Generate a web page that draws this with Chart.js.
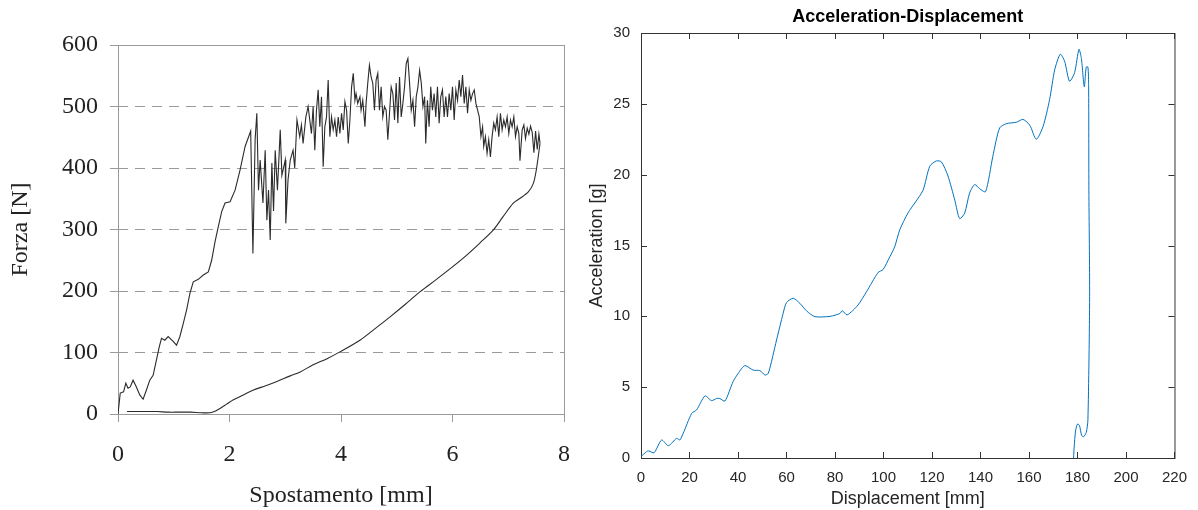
<!DOCTYPE html>
<html>
<head>
<meta charset="utf-8">
<script src="https://cdn.jsdelivr.net/npm/chart.js@4.4.0/dist/chart.umd.min.js"></script>
<style>
  body { margin: 0; background: #fff; }
  #forzaChart { position: absolute; left: 0; top: 0; }
  #accChart { position: absolute; left: 585px; top: 0; }
</style>
</head>
<body>
<canvas id="forzaChart" width="590" height="510"></canvas>
<canvas id="accChart" width="613" height="510"></canvas>
<script>
// Forza-spostamento: ramo di carico (con le oscillazioni) e ramo di scarico
const spostamentoCarico = [
  0, 0.04, 0.1, 0.14, 0.18, 0.22, 0.27, 0.33, 0.39, 0.45, 0.51, 0.57, 0.63, 0.69, 0.74, 0.78, 0.84, 0.9, 0.99, 1.05,
  1.11, 1.17, 1.23, 1.29, 1.35, 1.44, 1.53, 1.62, 1.68, 1.74, 1.8, 1.86, 1.92, 2.01, 2.1, 2.19, 2.28, 2.38,
  2.42, 2.46, 2.49, 2.52, 2.55, 2.6, 2.64, 2.67, 2.7, 2.73, 2.76, 2.79, 2.82, 2.86, 2.91, 2.94, 3.0, 3.01, 3.05, 3.09,
  3.14, 3.17, 3.21, 3.26, 3.29, 3.32, 3.37, 3.41,
  3.47, 3.5, 3.53, 3.56, 3.59, 3.62, 3.65, 3.68, 3.71, 3.74, 3.77, 3.8, 3.83, 3.86, 3.89, 3.92, 3.95, 3.98, 4.01, 4.04,
  4.07, 4.1, 4.13, 4.16, 4.19, 4.22, 4.25, 4.27, 4.3, 4.34, 4.36, 4.39, 4.43, 4.45, 4.48, 4.51, 4.54, 4.57, 4.6, 4.63,
  4.66, 4.69, 4.72, 4.75, 4.78, 4.81, 4.84, 4.87, 4.9, 4.93, 4.96, 4.99, 5.02, 5.05, 5.08, 5.11, 5.14, 5.17, 5.2, 5.23,
  5.26, 5.29, 5.32, 5.35, 5.38, 5.41, 5.44, 5.47, 5.5, 5.52, 5.55, 5.58, 5.61, 5.64, 5.67, 5.7, 5.73, 5.76, 5.79, 5.82, 5.85,
  5.88, 5.91, 5.94, 5.97, 6.0, 6.03, 6.06, 6.09, 6.12, 6.15, 6.18, 6.21, 6.24, 6.27, 6.3, 6.33, 6.36, 6.39, 6.42, 6.45,
  6.48, 6.51, 6.54, 6.56, 6.59, 6.62, 6.65, 6.68, 6.71, 6.74, 6.77, 6.8, 6.83, 6.86, 6.89, 6.92, 6.95, 6.98, 7.01, 7.04,
  7.07, 7.1, 7.13, 7.16, 7.19, 7.21, 7.25, 7.28, 7.31, 7.34, 7.37, 7.4, 7.43, 7.46, 7.49, 7.52, 7.55, 7.57
];
const forzaCarico = [
  0, 34, 36, 50, 42, 44, 55, 44, 31, 24, 39, 55, 63, 88, 109, 123, 120, 126, 118, 112,
  126, 147, 169, 196, 215, 219, 226, 231, 250, 280, 305, 329, 343, 345, 364, 397, 435, 460,
  261, 447, 489, 364, 413, 343, 429, 315, 364, 283, 408, 330, 429, 364, 462, 388, 413, 310, 381, 413,
  429, 400, 478, 451, 470, 440, 483, 500,
  456, 500, 429, 494, 527, 467, 516, 402, 467, 483, 543, 451, 483, 462, 478, 451, 483, 456, 489, 462,
  508, 494, 440, 478, 532, 554, 510, 521, 505, 516, 494, 510, 467, 505, 538, 567, 548, 538, 494, 543,
  554, 494, 532, 483, 500, 494, 446, 489, 532, 521, 478, 538, 473, 548, 483, 505, 532, 570, 578, 538,
  494, 510, 467, 516, 532, 559, 538, 500, 516, 440, 510, 467, 532, 494, 521, 483, 532, 473, 516, 527, 483,
  516, 483, 521, 494, 532, 478, 527, 510, 543, 516, 551, 505, 532, 489, 527, 510, 521, 527, 505, 494,
  483, 451, 467, 435, 451, 424, 446, 418, 451, 473, 462, 483, 451, 489, 462, 478, 467, 483, 456, 478,
  467, 483, 451, 467, 456, 412, 462, 470, 448, 465, 455, 468, 458, 425, 460, 430, 455, 440
];
const spostamentoScarico = [
  7.57, 7.54, 7.5, 7.45, 7.36, 7.2, 7.09, 6.9, 6.73, 6.49, 6.25, 6.01, 5.7, 5.42, 5.15, 4.88, 4.6, 4.34, 3.98, 3.75,
  3.5, 3.26, 3.09, 2.85, 2.65, 2.43, 2.25, 2.07, 1.95, 1.83, 1.75, 1.65, 1.5, 1.3, 1.1, 0.9, 0.7, 0.5, 0.3, 0.16
];
const forzaScarico = [
  440, 420, 395, 375, 361, 350, 343, 320, 299, 278, 258, 240, 218, 199, 178, 158, 138, 120, 101, 90,
  80, 68, 62, 53, 46, 39, 31, 23, 16, 9, 5, 2, 2, 3, 3, 3, 4, 4, 4, 4
];
const tickSpostamento = [0, 2, 4, 6, 8];
const tickForza = [0, 100, 200, 300, 400, 500, 600];

// Acceleration-Displacement (sled test)
const displacement = [
  0, 2.3, 3.2, 5.4, 8.5, 11.3, 14.7, 16, 17.4, 20.9, 22.9, 26.4, 29.1, 31.2, 32.5, 34.6, 38, 40.1, 42.8, 46.3,
  49, 51.1, 52.5, 55.9, 58.6, 60, 62.8, 65.5, 68.3, 71.7, 78, 82, 83, 85, 89.5, 93, 97.8, 99.8, 102.6, 104.6,
  106.7, 110.1, 112.9, 116.3, 119.1, 121.8, 123.9, 126.6, 129.4, 131.4, 133.5, 135.5, 137.6, 139.7, 142.1, 145.1,
  147.9, 150.7, 154.8, 157.5, 160.3, 163, 165.8, 168.5, 170.6, 172.9, 174.7, 176.7, 178.8, 180.6, 181.6, 182.8,
  183.6, 184.3, 184.6, 184.7, 185.0, 184.3, 183.6, 182.5, 181.7, 180.8, 180, 179.2, 178.6, 178.4
];
const acceleration = [
  0.1, 0.45, 0.5, 0.37, 1.27, 0.87, 1.39, 1.27, 1.74, 3.15, 3.39, 4.38, 4.05, 4.2, 4.2, 4.02, 5.4, 5.98, 6.52, 6.2,
  6.17, 5.86, 5.98, 8.33, 10.2, 10.97, 11.27, 10.92, 10.38, 9.98, 10, 10.2, 10.4, 10.1, 10.8, 11.74, 13.1, 13.3, 14.2, 14.9,
  16.1, 17.3, 18, 18.9, 20.6, 20.97, 20.9, 19.9, 18.2, 16.9, 17.3, 18.7, 19.3, 19, 18.8, 21.3,
  23.3, 23.6, 23.7, 23.9, 23.5, 22.5, 23.4, 25.3, 27.4, 28.5, 28, 26.6, 27.2, 28.85, 28.2, 26.2,
  27.6, 27.6, 26.2, 18.9, 11.4, 2.7, 1.8, 1.5, 1.6, 2.3, 2.4, 1.9, 0.7, 0
];
const tickDisplacement = [0, 20, 40, 60, 80, 100, 120, 140, 160, 180, 200, 220];
const tickAcceleration = [0, 5, 10, 15, 20, 25, 30];

const points = (xs, ys) => xs.map((x, i) => ({x: x, y: ys[i]}));
const fixedTicks = values => scale => { scale.ticks = values.map(v => ({value: v})); };

// frame around the plot area, optionally with inward tick marks (MATLAB look)
const framePlugin = {
  id: 'frame',
  beforeDatasetsDraw(chart, args, opts) {
    const {ctx, chartArea: a, scales} = chart;
    ctx.save();
    ctx.strokeStyle = opts.color;
    ctx.lineWidth = 1;
    ctx.strokeRect(a.left + 0.5, a.top + 0.5, a.right - a.left, a.bottom - a.top);
    if (opts.inner) {
      const len = opts.inner;
      ctx.beginPath();
      scales.x.ticks.forEach(t => {
        const px = Math.round(scales.x.getPixelForValue(t.value)) + 0.5;
        ctx.moveTo(px, a.bottom); ctx.lineTo(px, a.bottom - len);
        ctx.moveTo(px, a.top); ctx.lineTo(px, a.top + len);
      });
      scales.y.ticks.forEach(t => {
        const py = Math.round(scales.y.getPixelForValue(t.value)) + 0.5;
        ctx.moveTo(a.left, py); ctx.lineTo(a.left + len, py);
        ctx.moveTo(a.right, py); ctx.lineTo(a.right - len, py);
      });
      ctx.stroke();
    }
    ctx.restore();
  }
};

const serif = {family: '"Liberation Serif", "Times New Roman", serif', size: 24};

new Chart(document.getElementById('forzaChart'), {
  type: 'scatter',
  data: {
    datasets: [
      {label: 'carico', data: points(spostamentoCarico, forzaCarico)},
      {label: 'scarico', data: points(spostamentoScarico, forzaScarico), tension: 0.3}
    ]
  },
  options: {
    responsive: false,
    animation: false,
    showLine: true,
    elements: {
      point: {radius: 0},
      line: {borderColor: '#2b2b2b', borderWidth: 1.1, tension: 0}
    },
    layout: {padding: {top: 45, right: 26, bottom: 0, left: 0}},
    plugins: {
      legend: {display: false},
      tooltip: {enabled: false},
      frame: {color: '#9a9a9a'}
    },
    scales: {
      x: {
        type: 'linear', min: 0, max: 8,
        afterBuildTicks: fixedTicks(tickSpostamento),
        afterFit: s => { s.height = 96; },
        border: {display: false},
        grid: {drawOnChartArea: false, tickLength: 8, color: '#9a9a9a'},
        ticks: {font: serif, color: '#222', padding: 18},
        title: {display: true, text: 'Spostamento [mm]', font: serif, color: '#222', padding: 0}
      },
      y: {
        type: 'linear', min: 0, max: 600,
        afterBuildTicks: fixedTicks(tickForza),
        afterFit: s => { s.width = 118; },
        border: {display: false, dash: [10, 7]},
        grid: {tickLength: 8, color: '#9a9a9a'},
        ticks: {font: serif, color: '#222', padding: 12},
        title: {display: true, text: 'Forza [N]', font: serif, color: '#222', padding: {top: 6, bottom: 0}}
      }
    }
  },
  plugins: [framePlugin]
});

const sans = size => ({family: '"Liberation Sans", Arial, sans-serif', size: size});

new Chart(document.getElementById('accChart'), {
  type: 'scatter',
  data: {
    datasets: [{label: 'Acceleration', data: points(displacement, acceleration)}]
  },
  options: {
    responsive: false,
    animation: false,
    showLine: true,
    elements: {
      point: {radius: 0},
      line: {borderColor: '#0072BD', borderWidth: 1, tension: 0.25}
    },
    layout: {padding: {top: 0, right: 23, bottom: 0, left: 0}},
    plugins: {
      legend: {display: false},
      tooltip: {enabled: false},
      title: {
        display: true, fullSize: false,
        text: 'Acceleration-Displacement',
        font: {family: '"Liberation Sans", Arial, sans-serif', size: 18, weight: 'bold'},
        color: '#000',
        padding: {top: 6, bottom: 5.4}
      },
      frame: {color: '#333', inner: 6}
    },
    scales: {
      x: {
        type: 'linear', min: 0, max: 220,
        afterBuildTicks: fixedTicks(tickDisplacement),
        afterFit: s => { s.height = 52; },
        border: {display: false},
        grid: {display: false, drawTicks: false},
        ticks: {font: sans(15), color: '#262626', padding: 11},
        title: {display: true, text: 'Displacement [mm]', font: sans(18), color: '#262626', padding: {top: 0, bottom: 0}}
      },
      y: {
        type: 'linear', min: 0, max: 30,
        afterBuildTicks: fixedTicks(tickAcceleration),
        afterFit: s => { s.width = 56; },
        border: {display: false},
        grid: {display: false, drawTicks: false},
        ticks: {font: sans(15), color: '#262626', padding: 11},
        title: {display: true, text: 'Acceleration [g]', font: sans(18), color: '#262626', padding: {top: 1, bottom: 0}}
      }
    }
  },
  plugins: [framePlugin]
});
</script>
</body>
</html>
